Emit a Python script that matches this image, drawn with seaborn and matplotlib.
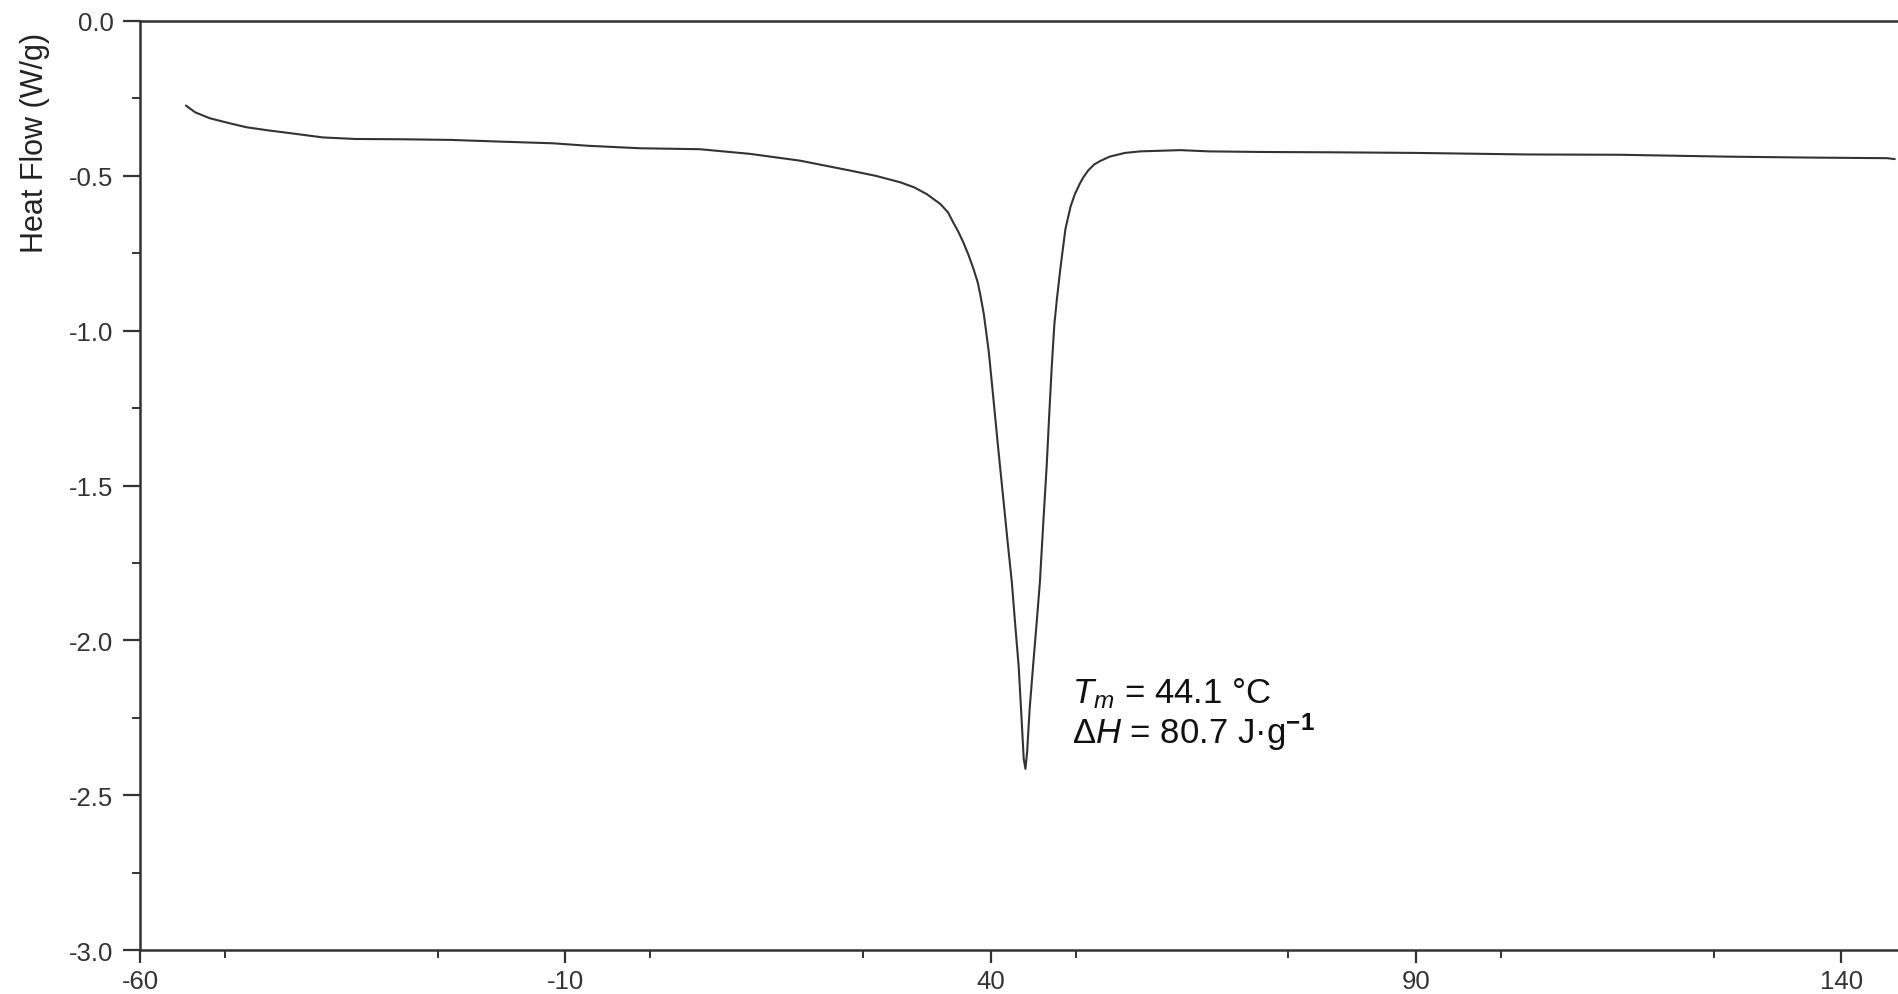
import matplotlib
matplotlib.use('Agg')
from matplotlib import pyplot as plt
from matplotlib.ticker import MultipleLocator
import pandas as pd
import seaborn as sns

# DSC trace
temperature = [
    -54.6, -53.5, -51.8, -49.5, -47.5, -45.0, -42.4, -38.5, -34.7, -29.0,
    -23.5, -17.1, -11.4, -7.3, -1.2, 5.8, 11.7, 17.6, 23.5, 26.5,
    29.4, 31.0, 32.5, 34.1, 35.0, 35.6, 36.2, 36.8, 37.4, 38.0,
    38.5, 38.8, 39.2, 39.8, 40.3, 40.9, 41.5, 42.0, 42.5, 42.9,
    43.3, 43.6, 43.9, 44.1, 44.3, 44.6, 45.0, 45.4, 45.8, 46.2,
    46.6, 46.9, 47.2, 47.5, 47.8, 48.2, 48.8, 49.4, 49.9, 50.5,
    50.9, 51.5, 52.2, 52.9, 54.0, 55.8, 57.6, 60.0, 62.3, 65.6,
    72.0, 79.9, 90.0, 103.0, 114.0, 126.5, 136.0, 145.4, 146.3,
]
heat_flow = [
    -0.273, -0.295, -0.314, -0.330, -0.343, -0.353, -0.362, -0.376, -0.381, -0.382,
    -0.384, -0.390, -0.395, -0.403, -0.411, -0.414, -0.429, -0.451, -0.483, -0.500,
    -0.521, -0.537, -0.559, -0.591, -0.618, -0.650, -0.680, -0.715, -0.755, -0.801,
    -0.845, -0.885, -0.945, -1.070, -1.210, -1.380, -1.543, -1.680, -1.812, -1.950,
    -2.082, -2.230, -2.383, -2.415, -2.360, -2.220, -2.082, -1.950, -1.812, -1.620,
    -1.436, -1.270, -1.113, -0.980, -0.898, -0.801, -0.672, -0.600, -0.560, -0.525,
    -0.505, -0.482, -0.463, -0.452, -0.438, -0.426, -0.421, -0.419, -0.417, -0.421,
    -0.423, -0.424, -0.426, -0.431, -0.432, -0.438, -0.441, -0.443, -0.446,
]

x_major = [-60, -10, 40, 90, 140]
y_major = [0.0, -0.5, -1.0, -1.5, -2.0, -2.5, -3.0]

tm_label = r'$T_m$ = 44.1 °C'
dh_label = r'$\Delta H$ = 80.7 J·g$^{\mathbf{-1}}$'


def main():
    sns.set_theme(style='ticks')
    plt.rcParams['font.family'] = ['Liberation Sans', 'DejaVu Sans']
    plt.rcParams['mathtext.fontset'] = 'custom'
    plt.rcParams['mathtext.rm'] = 'Liberation Sans'
    plt.rcParams['mathtext.it'] = 'Liberation Sans:italic'
    plt.rcParams['mathtext.bf'] = 'Liberation Sans:bold'
    plt.rcParams['axes.unicode_minus'] = False

    df = pd.DataFrame({'T': temperature, 'HF': heat_flow})

    fig = plt.figure(figsize=(18.99, 9.95), dpi=100)
    ax = fig.add_axes([0.0737, 0.0442, 0.9263, 0.9337])

    sns.lineplot(data=df, x='T', y='HF', ax=ax, sort=False, estimator=None,
                 color='#333333', linewidth=1.5)

    ax.set_xlim(-60, 146.8)
    ax.set_ylim(-3.0, 0.0)
    ax.set_xticks(x_major)
    ax.set_xticklabels([str(v) for v in x_major])
    ax.xaxis.set_minor_locator(MultipleLocator(25))
    ax.set_yticks(y_major)
    ax.set_yticklabels([f'{v:.1f}' for v in y_major])
    ax.yaxis.set_minor_locator(MultipleLocator(0.25))

    for side in ['left', 'bottom', 'top']:
        ax.spines[side].set_color('#333333')
        ax.spines[side].set_linewidth(1.8)
    ax.spines['right'].set_visible(False)

    ax.tick_params(axis='y', which='major', length=12, width=1.6,
                   colors='#333333', labelsize=18.5, pad=7)
    ax.tick_params(axis='x', which='major', length=9.4, width=1.6,
                   colors='#333333', labelsize=18.5, pad=4)
    ax.tick_params(which='minor', length=5.8, width=1.4, colors='#333333')

    ax.set_xlabel('')
    ax.set_ylabel('Heat Flow (W/g)', fontsize=22, color='#222222')
    ax.yaxis.set_label_coords(-0.0512, 0.870)

    ax.text(49.6, -2.199, tm_label, fontsize=25, color='#111111', va='baseline')
    ax.text(49.6, -2.331, dh_label, fontsize=25, color='#111111', va='baseline')

    fig.savefig('out.png', dpi=100)


if __name__ == '__main__':
    main()
